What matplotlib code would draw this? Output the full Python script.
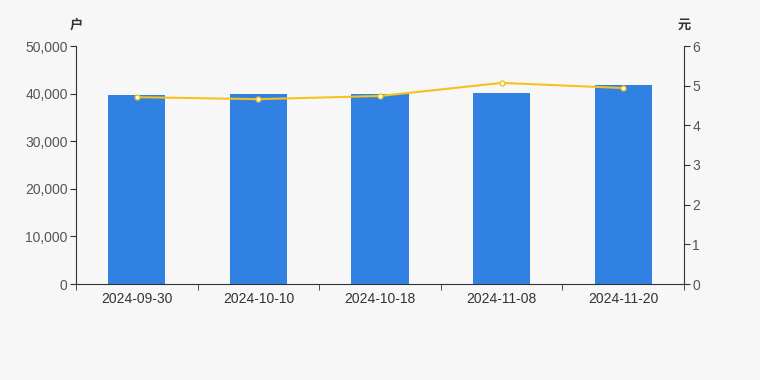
import matplotlib
matplotlib.use("Agg")
import matplotlib.pyplot as plt
from matplotlib.ticker import FuncFormatter, FixedLocator
import numpy as np

plt.rcParams['font.family'] = ['Liberation Sans', 'Noto Sans CJK SC', 'DejaVu Sans']

categories = ["2024-09-30", "2024-10-10", "2024-10-18", "2024-11-08", "2024-11-20"]
holders = [39800, 40000, 39900, 40100, 41800]
price = [4.71, 4.66, 4.74, 5.07, 4.94]
left_ticks = [0, 10000, 20000, 30000, 40000, 50000]
right_ticks = [0, 1, 2, 3, 4, 5, 6]

bg = "#f7f7f7"
fig = plt.figure(figsize=(7.6, 3.8), dpi=100, facecolor=bg)
ax = fig.add_axes([76/760, 1-284/380, 608/760, 238/380], facecolor=bg)
ax2 = ax.twinx()

x = np.arange(len(categories))
ax.bar(x, holders, width=0.47, color="#3181e3", zorder=2)
ax.set_xlim(-0.5, len(categories)-0.5)
ax.set_ylim(0, 50000)
ax.set_yticks(left_ticks)
ax.yaxis.set_major_formatter(FuncFormatter(lambda v, p: f"{int(v):,}"))

ax2.plot(x, price, color="#f5c21b", lw=1.5, marker="o", ms=3.5,
         markerfacecolor="white", markeredgecolor="#f5c21b", markeredgewidth=1, zorder=3)
ax2.set_ylim(0, 6)
ax2.set_yticks(right_ticks)

ax.set_xticks(x)
ax.set_xticklabels(categories)
ax.xaxis.set_minor_locator(FixedLocator(np.arange(-0.5, len(categories), 1.0)))
ax.tick_params(axis='x', which='major', length=0, pad=6, labelsize=10, colors="#333333")
ax.tick_params(axis='x', which='minor', length=4, color="#333333", direction='out')
ax.tick_params(axis='y', length=4, color="#333333", labelsize=10, labelcolor="#555555", pad=2)
ax2.tick_params(axis='y', length=4, color="#333333", labelsize=10, labelcolor="#555555", pad=2)

for a in (ax, ax2):
    a.spines["top"].set_visible(False)
    a.spines["left"].set_color("#333333")
    a.spines["right"].set_color("#333333")
    a.spines["bottom"].set_color("#333333")
ax.spines["right"].set_visible(False)
ax2.spines["left"].set_visible(False)
ax2.spines["bottom"].set_visible(False)

fig.text(76/760, 1-25/380, "户", ha="center", va="center", fontsize=9.5, color="#333333",
         family=['Noto Sans CJK SC'], fontweight="bold")
fig.text(684/760, 1-25/380, "元", ha="center", va="center", fontsize=9.5, color="#333333",
         family=['Noto Sans CJK SC'], fontweight="bold")

fig.savefig("out.png", dpi=100, facecolor=bg)
